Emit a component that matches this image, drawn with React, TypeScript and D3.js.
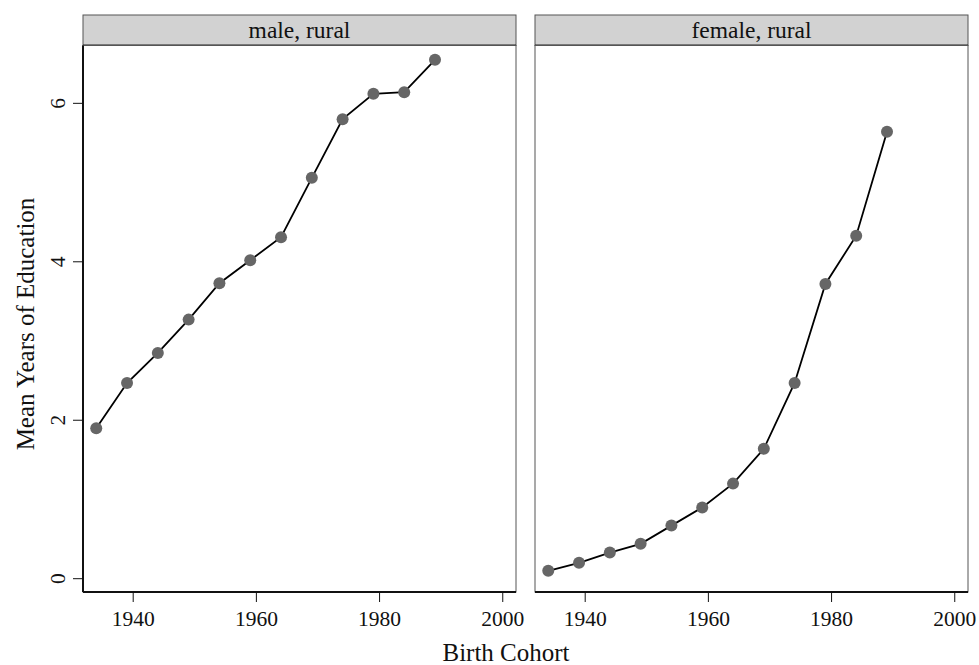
import React from 'react';
import * as d3 from 'd3';

// birth cohorts (mid-year of each 5-year group)
const cohorts = [1934, 1939, 1944, 1949, 1954, 1959, 1964, 1969, 1974, 1979, 1984, 1989];
const maleRural = [1.9, 2.47, 2.85, 3.27, 3.73, 4.02, 4.31, 5.06, 5.8, 6.12, 6.14, 6.55];
const femaleRural = [0.1, 0.2, 0.33, 0.44, 0.67, 0.9, 1.2, 1.64, 2.47, 3.72, 4.33, 5.64];
const panelNames = ['male, rural', 'female, rural'];
const xTicks = [1940, 1960, 1980, 2000];
const yTicks = [0, 2, 4, 6];

const W = 979;
const H = 665;
const panelLeft = [83, 535];
const panelW = 433;
const stripTop = 15;
const plotTop = 45.5;
const plotBottom = 592;
const font = '"Liberation Serif", "Times New Roman", serif';

export default function App() {
  const series = [maleRural, femaleRural];

  const x = d3.scaleLinear().domain([1931.85, 2002.15]).range([0, panelW]);
  const y = d3.scaleLinear().domain([-0.168, 6.73]).range([plotBottom, plotTop]);

  const line = d3
    .line<number>()
    .x((_, i) => x(cohorts[i]))
    .y((d) => y(d));

  return (
    <div style={{ position: 'absolute', left: 0, top: 0 }}>
      <svg width={W} height={H} style={{ display: 'block', background: '#fff' }} fontFamily={font}>
        {panelNames.map((name, p) => (
          <g key={name} transform={`translate(${panelLeft[p]},0)`}>
            {/* strip */}
            <rect x={0} y={stripTop} width={panelW} height={plotTop - stripTop} fill="#d2d2d2" stroke="#555" strokeWidth={1} />
            <line x1={0} x2={panelW} y1={plotTop} y2={plotTop} stroke="#222" strokeWidth={2} />
            <text x={panelW / 2} y={(stripTop + plotTop) / 2} dy="0.35em" textAnchor="middle" fontSize={23.5} fill="#111">
              {name}
            </text>
            {/* panel frame */}
            <rect x={0} y={plotTop} width={panelW} height={plotBottom - plotTop} fill="#fff" stroke="#555" strokeWidth={1} />
            <line x1={0} x2={panelW} y1={plotBottom} y2={plotBottom} stroke="#111" strokeWidth={2} />
            {p === 0 && <line x1={0} x2={0} y1={plotTop} y2={plotBottom} stroke="#111" strokeWidth={2} />}

            {/* x axis */}
            {xTicks.map((t) => (
              <g key={t} transform={`translate(${x(t)},0)`}>
                <line y1={plotBottom} y2={plotBottom + 10} stroke="#111" strokeWidth={1} />
                <text y={plotBottom + 34} textAnchor="middle" fontSize={21.5} fill="#111">
                  {t}
                </text>
              </g>
            ))}

            {/* y axis (left panel only) */}
            {p === 0 &&
              yTicks.map((t) => (
                <g key={t} transform={`translate(0,${y(t)})`}>
                  <line x1={-10} x2={0} stroke="#111" strokeWidth={1} />
                  <text transform="translate(-26,0) rotate(-90)" textAnchor="middle" dy="0.35em" fontSize={21.5} fill="#111">
                    {t}
                  </text>
                </g>
              ))}

            {/* data */}
            <path d={line(series[p]) || ''} fill="none" stroke="#000" strokeWidth={1.8} />
            {series[p].map((v, i) => (
              <circle key={i} cx={x(cohorts[i])} cy={y(v)} r={6} fill="#666" />
            ))}
          </g>
        ))}

        {/* axis titles */}
        <text x={506} y={661} textAnchor="middle" fontSize={25} fill="#111">
          Birth Cohort
        </text>
        <text
          transform={`translate(25,324) rotate(-90)`}
          textAnchor="middle"
          dy="0.35em"
          fontSize={25}
          fill="#111"
        >
          Mean Years of Education
        </text>
      </svg>
    </div>
  );
}
